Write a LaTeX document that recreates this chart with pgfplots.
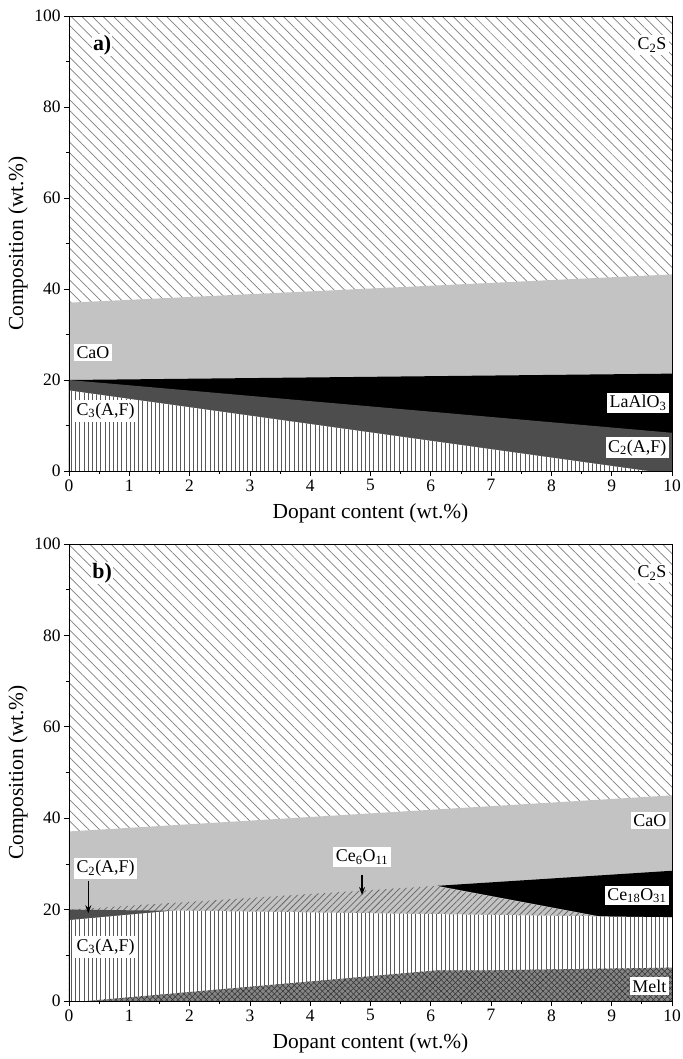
\documentclass[border=0pt]{standalone}
\usepackage{fontspec}
\setmainfont{Liberation Serif}
\usepackage{pgfplots}
\pgfplotsset{compat=1.18}
\usetikzlibrary{patterns.meta,arrows.meta}

\definecolor{cao}{HTML}{C3C3C3}
\definecolor{dg}{HTML}{4D4D4D}
\definecolor{meltc}{HTML}{858585}

\tikzset{
  lbl/.style={fill=white, inner sep=2.5bp, font=\fontsize{18}{20}\selectfont},
  cts/.style={draw=none, preaction={fill=white}, pattern color=black!50,
    pattern={Lines[angle=-45,distance=7.5bp,line width=0.7bp]}},
  cta/.style={draw=none, preaction={fill=white}, pattern color=black!65,
    pattern={Lines[angle=90,distance=4.2bp,line width=0.85bp]}},
}

\pgfplotsset{
  mystyle/.style={
    width=603bp, height=455bp, scale only axis,
    xmin=0, xmax=10, ymin=0, ymax=100,
    xtick={0,...,10}, ytick={0,20,...,100},
    minor x tick num=1, minor y tick num=1,
    tick align=outside, tick pos=left,
    major tick length=5bp, minor tick length=3bp,
    axis line style={line width=0.9bp},
    every tick/.style={black, line width=0.8bp},
    tick label style={font=\fontsize{17.5}{20}\selectfont},
    label style={font=\fontsize{21.5}{24}\selectfont},
    /pgf/number format/assume math mode=true,
    xlabel={Dopant content (wt.\%)},
    ylabel={Composition (wt.\%)},
    xlabel style={at={(axis description cs:0.5,-0.092)}, anchor=center},
    ylabel style={at={(axis description cs:-0.0846,0.5)}, anchor=center},
    axis on top,
  },
}

\begin{document}
\begin{tikzpicture}
\useasboundingbox (-69bp,16bp) rectangle (614bp,-1043bp);

% ---------------- panel a ----------------
\begin{axis}[mystyle, at={(0,0)}, anchor=north west]
\addplot[cts] coordinates {(0,0)(0,100)(10,100)(10,0)} \closedcycle;
\addplot[draw=none, fill=cao] coordinates {(0,37.0)(10,43.2)} \closedcycle;
\addplot[draw=none, fill=black] coordinates {(0,20)(10,21.4)} \closedcycle;
\addplot[draw=none, fill=dg] coordinates {(0,20)(10,8.4)} \closedcycle;
\addplot[cta] coordinates {(0,17.7)(9.6,0)(10,0)} \closedcycle;

\node[lbl, font=\fontsize{22}{24}\selectfont\bfseries, inner sep=1bp] at (axis cs:0.55,93.6) {a)};
\node[lbl, anchor=east] at (axis cs:9.95,93.6) {C\textsubscript{2}S};
\node[lbl, anchor=west] at (axis cs:0.08,26.0) {CaO};
\node[lbl, anchor=west] at (axis cs:0.08,13.2) {C\textsubscript{3}(A,F)};
\node[lbl, anchor=east] at (axis cs:9.95,15.0) {LaAlO\textsubscript{3}};
\node[lbl, anchor=east] at (axis cs:9.95,5.1) {C\textsubscript{2}(A,F)};
\end{axis}

% ---------------- panel b ----------------
\begin{axis}[mystyle, at={(0,-528bp)}, anchor=north west, height=457bp]
\addplot[cts] coordinates {(0,0)(0,100)(10,100)(10,0)} \closedcycle;
\addplot[draw=none, fill=cao] coordinates {(0,37.1)(10,45.0)} \closedcycle;
\addplot[draw=none, fill=black] coordinates {(6.1,25.2)(10,28.5)} \closedcycle;
\addplot[draw=none, preaction={fill=cao}, pattern color=black!60,
  pattern={Lines[angle=45,distance=4.5bp,line width=0.75bp]}]
  coordinates {(0,20)(6.1,25.2)(8.84,18.4)(10,18.3)} \closedcycle;
\addplot[draw=none, fill=dg] coordinates {(0,20)(1.7,19.75)} \closedcycle;
\addplot[cta] coordinates {(0,17.7)(1.75,19.8)(10,18.3)} \closedcycle;
\addplot[draw=none, preaction={fill=meltc},
  postaction={pattern color=black!80, pattern={Lines[angle=45,distance=4bp,line width=0.55bp]}},
  postaction={pattern color=black!80, pattern={Lines[angle=-45,distance=4bp,line width=0.55bp]}}]
  coordinates {(0,0)(0.3,0)(6.1,6.7)(6.9,6.7)(10,7.3)} \closedcycle;

\node[lbl, font=\fontsize{22}{24}\selectfont\bfseries, inner sep=1bp] at (axis cs:0.55,93.6) {b)};
\node[lbl, anchor=east] at (axis cs:9.95,93.6) {C\textsubscript{2}S};
\node[lbl, anchor=east] at (axis cs:9.95,39.5) {CaO};
\node[lbl, anchor=east] at (axis cs:9.95,23.1) {Ce\textsubscript{18}O\textsubscript{31}};
\node[lbl, anchor=east] at (axis cs:9.95,3.3) {Melt};
\node[lbl, anchor=west] at (axis cs:0.08,11.8) {C\textsubscript{3}(A,F)};
\node[lbl, anchor=west] at (axis cs:0.08,29.0) {C\textsubscript{2}(A,F)};
\node[lbl] at (axis cs:4.86,31.5) {Ce\textsubscript{6}O\textsubscript{11}};
\draw[line width=1.4bp, -{Stealth[length=8bp,width=6bp]}] (axis cs:0.32,26.3) -- (axis cs:0.32,19.2);
\draw[line width=1.4bp, -{Stealth[length=8bp,width=6bp]}] (axis cs:4.86,27.6) -- (axis cs:4.86,23.2);
\end{axis}
\end{tikzpicture}
\end{document}
